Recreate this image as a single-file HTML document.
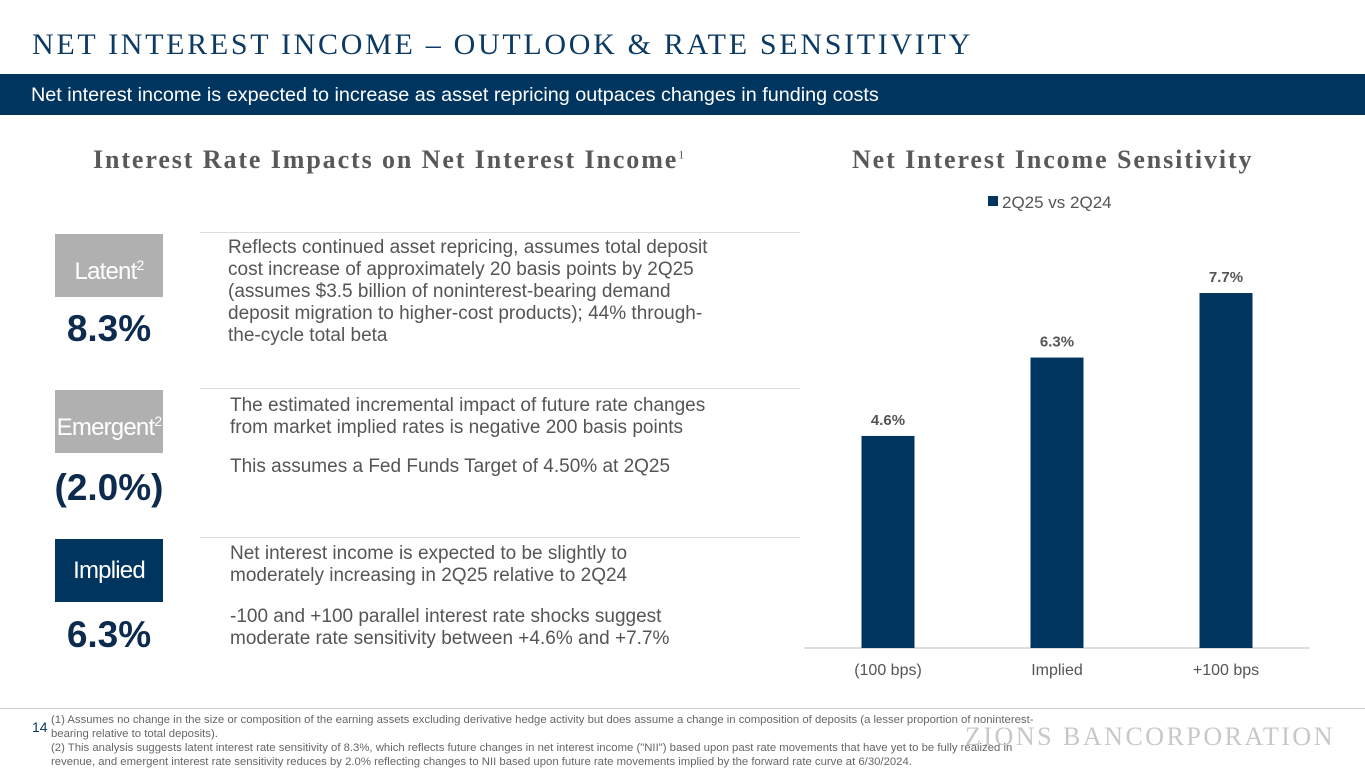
<!DOCTYPE html>
<html><head><meta charset="utf-8"><style>
body{margin:0;width:1365px;height:768px;overflow:hidden;background:#fff;position:relative;font-family:"Liberation Sans",sans-serif;}
.abs{position:absolute}
.title{left:32px;top:28px;font-family:"Liberation Serif",serif;font-size:30px;letter-spacing:2.7px;color:#0d3a63;}
.banner{left:0;top:74px;width:1365px;height:41px;background:#00355f;color:#fff;font-size:19.8px;line-height:43px;padding-left:31px;box-sizing:border-box}
.h2{font-family:"Liberation Serif",serif;font-weight:bold;font-size:26px;letter-spacing:1.9px;color:#595959}
.tag{width:108px;height:63px;color:#fff;font-size:24px;letter-spacing:-0.8px;line-height:63px;text-align:center;font-family:"Liberation Sans",sans-serif}
.tag sup{font-size:14px}
.val{width:108px;text-align:center;font-size:37px;font-weight:bold;color:#0d2a4f;font-family:"Liberation Sans",sans-serif}
.txt{font-size:19px;color:#555;line-height:22px}
.rule{height:1px;background:#ddd}
.foot{left:51px;top:713px;font-size:11px;color:#666;line-height:14px;width:1010px;transform:scaleX(1.03);transform-origin:left top}
</style></head><body>
<div class="abs title">NET INTEREST INCOME – OUTLOOK &amp; RATE SENSITIVITY</div>
<div class="abs banner">Net interest income is expected to increase as asset repricing outpaces changes in funding costs</div>
<div class="abs h2" style="left:93px;top:145px">Interest Rate Impacts on Net Interest Income<span style="font-size:12px;font-weight:normal;vertical-align:super;letter-spacing:0">1</span></div>
<div class="abs h2" style="left:852px;top:145px">Net Interest Income Sensitivity</div>

<div class="abs rule" style="left:200px;top:232px;width:600px"></div>
<div class="abs rule" style="left:200px;top:388px;width:600px"></div>
<div class="abs rule" style="left:200px;top:537px;width:600px"></div>

<div class="abs tag" style="left:55px;top:234px;background:#b0b0b0">Latent<sup>2</sup></div>
<div class="abs val" style="left:55px;top:308px">8.3%</div>
<div class="abs txt" style="left:228px;top:237px;white-space:nowrap">Reflects continued asset repricing, assumes total deposit<br>cost increase of approximately 20 basis points by 2Q25<br>(assumes $3.5 billion of noninterest-bearing demand<br>deposit migration to higher-cost products); 44% through-<br>the-cycle total beta</div>

<div class="abs tag" style="left:55px;top:390px;background:#b0b0b0">Emergent<sup>2</sup></div>
<div class="abs val" style="left:50px;top:467px;width:118px">(2.0%)</div>
<div class="abs txt" style="left:230px;top:395px;width:510px">The estimated incremental impact of future rate changes from market implied rates is negative 200 basis points</div>
<div class="abs txt" style="left:230px;top:456px;width:510px">This assumes a Fed Funds Target of 4.50% at 2Q25</div>

<div class="abs tag" style="left:55px;top:539px;background:#00355f">Implied</div>
<div class="abs val" style="left:55px;top:614px">6.3%</div>
<div class="abs txt" style="left:230px;top:543px;width:480px">Net interest income is expected to be slightly to moderately increasing in 2Q25 relative to 2Q24</div>
<div class="abs txt" style="left:230px;top:606px;width:480px">-100 and +100 parallel interest rate shocks suggest moderate rate sensitivity between +4.6% and +7.7%</div>

<svg class="abs" style="left:0;top:0" width="1365" height="768" id="chart">
<rect x="988" y="196" width="10" height="10" fill="#00355f"/>
<text x="1002" y="208" font-size="17" fill="#555" font-family="Liberation Sans">2Q25 vs 2Q24</text>
<line x1="804" y1="648" x2="1310" y2="648" stroke="#bbb"/>
</svg>
<script>
const categories=["(100 bps)","Implied","+100 bps"];
const values=[4.6,6.3,7.7];
const labels=["4.6%","6.3%","7.7%"];
const svg=document.getElementById('chart');
const ns="http://www.w3.org/2000/svg";
const base=648, scale=46.1, x0=888, step=169, bw=53;
const y=v=>base-v*scale, xc=i=>x0+i*step;
categories.forEach((c,i)=>{
 const r=document.createElementNS(ns,'rect');
 r.setAttribute('x',xc(i)-bw/2);r.setAttribute('y',y(values[i]));r.setAttribute('width',bw);r.setAttribute('height',base-y(values[i]));r.setAttribute('fill','#00355f');
 
 
 svg.appendChild(r);
 const t=document.createElementNS(ns,'text');
 t.setAttribute('x',xc(i));t.setAttribute('y',y(values[i])-11);t.setAttribute('text-anchor','middle');t.setAttribute('font-size','15');t.setAttribute('font-weight','bold');t.setAttribute('fill','#555');t.setAttribute('font-family','Liberation Sans, sans-serif');
 t.textContent=labels[i];
 
 
 svg.appendChild(t);
 const a=document.createElementNS(ns,'text');
 a.setAttribute('x',xc(i));a.setAttribute('y',675);a.setAttribute('text-anchor','middle');a.setAttribute('font-size','16');a.setAttribute('fill','#555');a.setAttribute('font-family','Liberation Sans, sans-serif');
 a.textContent=c;
 
 
 svg.appendChild(a);
});
</script>

<div class="abs rule" style="left:0;top:708px;width:1365px;background:#ccc"></div>
<div class="abs" style="left:32px;top:719px;font-size:14px;color:#0d3a63">14</div>
<div class="abs foot">(1) Assumes no change in the size or composition of the earning assets excluding derivative hedge activity but does assume a change in composition of deposits (a lesser proportion of noninterest-<br>bearing relative to total deposits).<br>(2) This analysis suggests latent interest rate sensitivity of 8.3%, which reflects future changes in net interest income ("NII") based upon past rate movements that have yet to be fully realized in<br>revenue, and emergent interest rate sensitivity reduces by 2.0% reflecting changes to NII based upon future rate movements implied by the forward rate curve at 6/30/2024.</div>
<div class="abs" style="left:965px;top:722px;font-family:'Liberation Serif',serif;font-size:26px;color:#c8c8c8;letter-spacing:2.5px">ZIONS BANCORPORATION</div>
</body></html>
